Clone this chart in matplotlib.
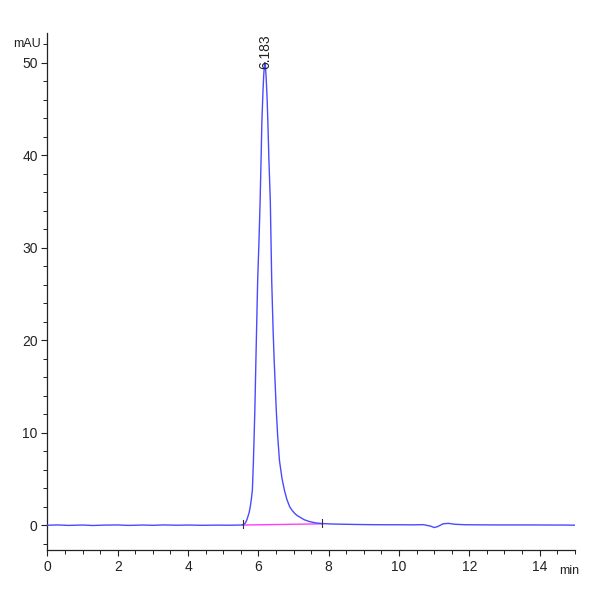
import matplotlib
matplotlib.use("Agg")
import matplotlib.pyplot as plt
from matplotlib.ticker import MultipleLocator

plt.rcParams['font.family'] = ['Liberation Sans Narrow', 'Liberation Sans', 'DejaVu Sans']

# chromatogram trace (min, mAU)
time_min = [0.0, 0.3, 0.6, 1.0, 1.3, 1.6, 2.0, 2.3, 2.7, 3.0, 3.3, 3.7, 4.0, 4.4, 4.8,
            5.2, 5.5, 5.56, 5.62, 5.66, 5.70, 5.74, 5.77, 5.80, 5.83, 5.86, 5.90,
            5.93, 5.98, 6.02, 6.05, 6.08, 6.10, 6.13, 6.15, 6.17, 6.183, 6.20,
            6.22, 6.25, 6.27, 6.30, 6.34, 6.38, 6.42, 6.45, 6.51, 6.55, 6.60,
            6.67, 6.74, 6.81, 6.89, 6.96, 7.03, 7.10, 7.17, 7.30, 7.45, 7.63,
            7.81, 8.1, 8.5, 8.8, 9.2, 9.6, 10.0, 10.4, 10.7, 10.9, 11.0, 11.1,
            11.25, 11.4, 11.6, 11.9, 12.3, 12.8, 13.3, 13.8, 14.3, 14.7, 15.0]
signal_mau = [0.0, 0.03, -0.02, 0.02, -0.03, 0.01, 0.03, -0.02, 0.02, -0.01, 0.03, 0.0,
              0.02, -0.01, 0.01, 0.0, 0.02, 0.05, 0.2, 0.45, 0.9, 1.4, 2.0, 2.8,
              3.8, 7.0, 12.4, 17.8, 26.4, 31.0, 35.0, 40.0, 43.6, 46.8, 48.5,
              49.6, 50.0, 49.7, 48.5, 46.0, 43.6, 39.5, 35.0, 26.4, 21.0, 17.8,
              12.4, 9.6, 7.0, 5.1, 3.8, 2.8, 2.0, 1.6, 1.3, 1.05, 0.9, 0.6, 0.4,
              0.25, 0.18, 0.13, 0.1, 0.08, 0.06, 0.05, 0.05, 0.04, 0.06, -0.1,
              -0.25, -0.15, 0.15, 0.2, 0.1, 0.05, 0.04, 0.03, 0.03, 0.03, 0.02,
              0.02, 0.0]

# integration baseline and peak marks
base_t = [5.56, 7.81]
base_y = [0.02, 0.15]
peak_rt = 6.183
peak_top = 50.0
peak_label = "6.183"

fig = plt.figure(figsize=(6, 6), dpi=100)
ax = fig.add_axes([0.079, 0.083, 0.879, 0.862])

ax.plot(time_min, signal_mau, color='#4a4aff', lw=1.0, zorder=3)
ax.plot(base_t, base_y, color='#ff3cff', lw=1.0, zorder=2)
for bt, by in zip(base_t, base_y):
    ax.plot([bt, bt], [by - 0.35, by + 0.55], color='#333333', lw=0.8, zorder=4)

ax.text(peak_rt, peak_top - 0.7, peak_label, rotation=90, ha='center', va='bottom',
        fontsize=10, color='#222222')

ax.set_xlim(0, 15)
ax.set_ylim(-2.7, 53.2)
ax.xaxis.set_major_locator(MultipleLocator(2))
ax.xaxis.set_minor_locator(MultipleLocator(0.5))
ax.yaxis.set_major_locator(MultipleLocator(10))
ax.yaxis.set_minor_locator(MultipleLocator(2))

for s in ['top', 'right']:
    ax.spines[s].set_visible(False)
for s in ['left', 'bottom']:
    ax.spines[s].set_linewidth(0.9)
    ax.spines[s].set_color('#222222')

ax.tick_params(which='major', length=4, width=0.8, labelsize=10, colors='#222222', pad=3)
ax.tick_params(which='minor', length=3, width=0.7, colors='#222222')

ax.text(-0.012, 52, "mAU", transform=ax.get_yaxis_transform(), ha='right', va='center',
        fontsize=9, color='#222222')
ax.text(14.85, -0.04, "min", transform=ax.get_xaxis_transform(), ha='center', va='center',
        fontsize=9, color='#222222')

fig.savefig("out.png", dpi=100)
